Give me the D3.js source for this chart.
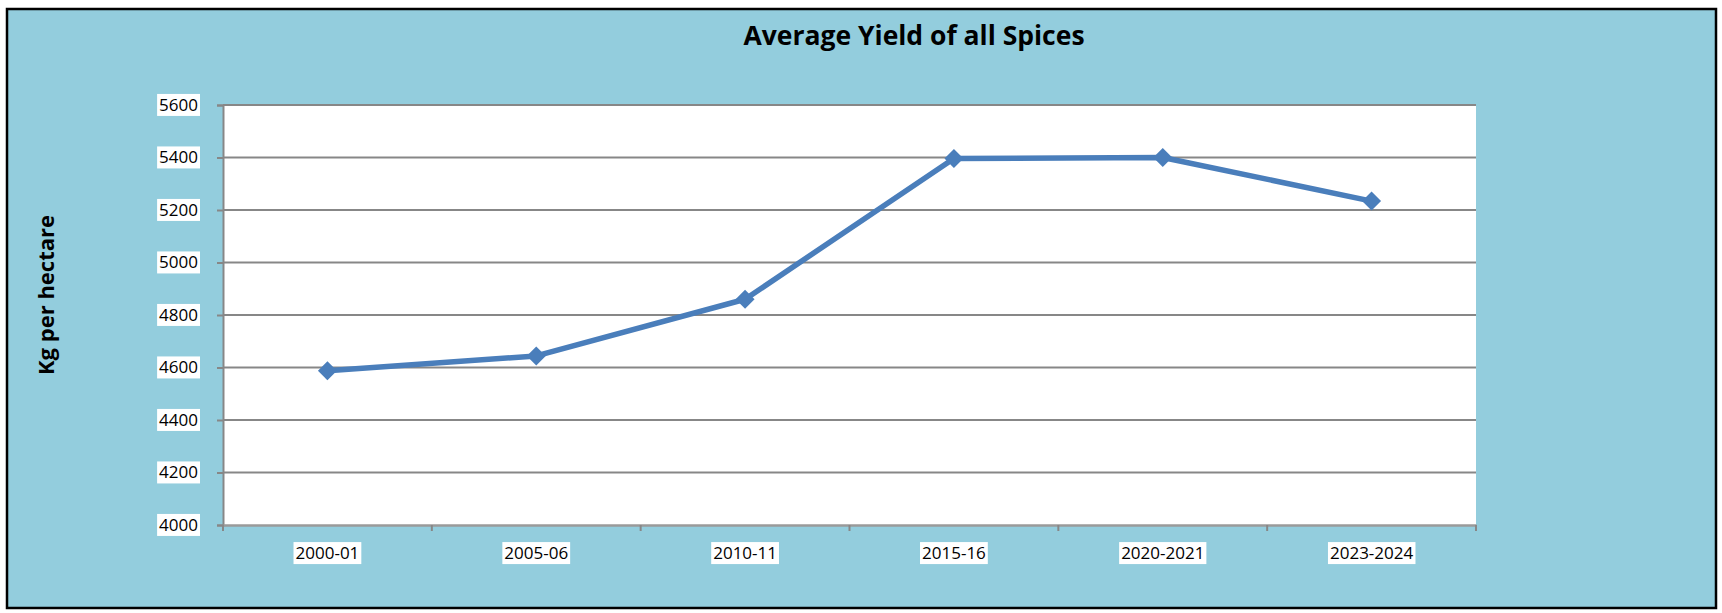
<!DOCTYPE html>
<html>
<head>
<meta charset="utf-8">
<script src="https://cdn.jsdelivr.net/npm/d3@7"></script>
<style>
  html, body { margin: 0; padding: 0; background: #ffffff; }
  svg { display: block; }
  text { font-family: "Open Sans", "Noto Sans", sans-serif; fill: #000; }
</style>
</head>
<body>
<script>
const categories = ["2000-01", "2005-06", "2010-11", "2015-16", "2020-2021", "2023-2024"];
const yieldValues = [4588, 4644, 4860, 5396, 5400, 5234];
const yTicks = [4000, 4200, 4400, 4600, 4800, 5000, 5200, 5400, 5600];
const chartTitle = "Average Yield of all Spices";
const yAxisTitle = "Kg per hectare";

const W = 1722, H = 613;
const plot = { left: 223, right: 1476, top: 105, bottom: 525 };

const svg = d3.select("body").append("svg").attr("width", W).attr("height", H);

// chart background
svg.append("rect")
  .attr("x", 7).attr("y", 9).attr("width", 1709).attr("height", 599)
  .attr("fill", "#93cddd").attr("stroke", "#000").attr("stroke-width", 2.5);

// plot area
svg.append("rect")
  .attr("x", plot.left).attr("y", plot.top)
  .attr("width", plot.right - plot.left).attr("height", plot.bottom - plot.top)
  .attr("fill", "#ffffff");

const x = d3.scaleBand().domain(categories).range([plot.left, plot.right]).padding(0);
const y = d3.scaleLinear().domain([4000, 5600]).range([plot.bottom, plot.top]);

// gridlines
svg.append("g").selectAll("line").data(yTicks.filter(d => d > 4000)).join("line")
  .attr("x1", plot.left).attr("x2", plot.right)
  .attr("y1", d => y(d)).attr("y2", d => y(d))
  .attr("stroke", "#878787").attr("stroke-width", 2);

// y axis
const yAxis = svg.append("g").attr("transform", `translate(${plot.left},0)`)
  .call(d3.axisLeft(y).tickValues(yTicks).tickSize(6).tickPadding(19).tickFormat(d3.format("d")));
yAxis.select(".domain").attr("stroke", "#878787").attr("stroke-width", 2);
yAxis.selectAll(".tick line").attr("stroke", "#878787").attr("stroke-width", 2);
yAxis.selectAll(".tick text").attr("font-size", 17).attr("font-family", "Open Sans").attr("fill", "#000");

// x axis (labels at centers, ticks at boundaries)
const xAxis = svg.append("g").attr("transform", `translate(0,${plot.bottom})`)
  .call(d3.axisBottom(x).tickSize(0).tickPadding(22));
xAxis.select(".domain").attr("stroke", "#9a9a9a").attr("stroke-width", 2.5);
xAxis.selectAll(".tick text").attr("font-size", 17).attr("font-family", "Open Sans").attr("fill", "#000");

const boundaries = categories.map(c => x(c)).concat([x(categories[categories.length - 1]) + x.bandwidth()]);
svg.append("g").selectAll("line").data(boundaries).join("line")
  .attr("x1", d => d).attr("x2", d => d)
  .attr("y1", plot.bottom).attr("y2", plot.bottom + 6)
  .attr("stroke", "#878787").attr("stroke-width", 2);

// white boxes behind tick labels
function boxLabels(sel) {
  sel.each(function() {
    const t = this;
    const bb = t.getBBox();
    d3.select(t.parentNode).insert("rect", "text")
      .attr("x", bb.x - 2).attr("y", bb.y + 1)
      .attr("width", bb.width + 4).attr("height", bb.height - 1)
      .attr("fill", "#ffffff");
  });
}
boxLabels(yAxis.selectAll(".tick text"));
boxLabels(xAxis.selectAll(".tick text"));

// line
const cx = d => x(d) + x.bandwidth() / 2;
const line = d3.line().x((d, i) => cx(categories[i])).y(d => y(d));
svg.append("path").datum(yieldValues)
  .attr("d", line).attr("fill", "none")
  .attr("stroke", "#4a7ebb").attr("stroke-width", 5.5).attr("stroke-linejoin", "round");

// diamond markers
svg.append("g").selectAll("path").data(yieldValues).join("path")
  .attr("d", d3.symbol().type(d3.symbolDiamond2).size(230))
  .attr("transform", (d, i) => `translate(${cx(categories[i])},${y(d)})`)
  .attr("fill", "#4a7ebb");

// title
svg.append("text")
  .attr("x", 914).attr("y", 45)
  .attr("text-anchor", "middle")
  .attr("font-size", 26.5).attr("font-weight", "bold")
  .text(chartTitle);

// y axis title
svg.append("text")
  .attr("transform", "translate(54,295) rotate(-90)")
  .attr("text-anchor", "middle")
  .attr("font-size", 22).attr("font-weight", "bold")
  .text(yAxisTitle);
</script>
</body>
</html>
